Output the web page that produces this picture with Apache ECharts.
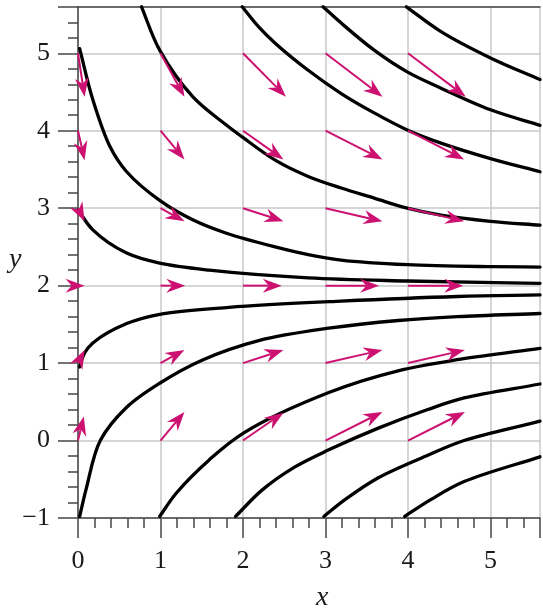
<!DOCTYPE html>
<html>
<head>
<meta charset="utf-8">
<script src="https://cdn.jsdelivr.net/npm/echarts@6/dist/echarts.min.js"></script>
<style>
  html, body { margin: 0; padding: 0; background: #ffffff; }
  #chart { width: 543px; height: 610px; }
</style>
</head>
<body>
<div id="chart"></div>
<script>
// Direction field (arrows at grid points) and solution curves approaching y = 2.

// Axis ranges and tick values
const xRange = [0, 5.6];
const yRange = [-1, 5.6];
const xTickValues = [0, 1, 2, 3, 4, 5];
const yTickValues = [-1, 0, 1, 2, 3, 4, 5];

// Field arrows: [x, y, dx, dy]
const fieldArrows = [
  [0, 5, 0.08, -0.56], [0, 4, 0.08, -0.38], [0, 3, 0.08, -0.17], [0, 2, 0.08, 0], [0, 1, 0.08, 0.17], [0, 0, 0.07, 0.31],
  [1, 5, 0.29, -0.56], [1, 4, 0.29, -0.37], [1, 3, 0.29, -0.17], [1, 2, 0.30, 0], [1, 1, 0.29, 0.17], [1, 0, 0.29, 0.37],
  [2, 5, 0.52, -0.56], [2, 4, 0.49, -0.37], [2, 3, 0.49, -0.17], [2, 2, 0.47, 0], [2, 1, 0.49, 0.17], [2, 0, 0.49, 0.36],
  [3, 5, 0.69, -0.56], [3, 4, 0.69, -0.37], [3, 3, 0.69, -0.17], [3, 2, 0.65, 0], [3, 1, 0.69, 0.17], [3, 0, 0.69, 0.37],
  [4, 5, 0.70, -0.56], [4, 4, 0.68, -0.37], [4, 3, 0.68, -0.17], [4, 2, 0.67, 0], [4, 1, 0.69, 0.17], [4, 0, 0.69, 0.37]
];

// Solution curves above y = 2
const curveE = [[3.98, 5.6], [4.40, 5.28], [5.0, 4.94], [5.6, 4.66]];
const curveD = [[2.97, 5.6], [3.19, 5.39], [3.59, 5.04], [3.99, 4.76], [4.40, 4.55], [5.0, 4.27], [5.6, 4.07]];
const curveC = [[1.99, 5.6], [2.19, 5.34], [2.39, 5.13], [2.79, 4.78], [3.19, 4.48], [3.59, 4.23], [3.99, 4.01], [4.40, 3.84], [5.0, 3.64], [5.6, 3.47]];
const curveB = [[0.77, 5.6], [0.99, 5.04], [1.39, 4.44], [1.79, 4.08], [1.99, 3.92], [2.39, 3.62], [2.79, 3.41], [3.19, 3.26], [3.59, 3.13], [3.99, 3.0], [4.40, 2.91], [5.0, 2.83], [5.6, 2.78]];
const curveA = [[0.02, 5.06], [0.18, 4.40], [0.39, 3.79], [0.59, 3.47], [0.99, 3.10], [1.39, 2.85], [1.79, 2.68], [2.39, 2.50], [2.79, 2.40], [3.19, 2.33], [3.99, 2.27], [5.0, 2.245], [5.6, 2.24]];
const curveF = [[0.0, 2.98], [0.18, 2.72], [0.59, 2.42], [0.99, 2.29], [1.59, 2.20], [2.79, 2.10], [3.99, 2.06], [5.6, 2.03]];

// Solution curves below y = 2
const curveL1 = [[0.02, 0.95], [0.08, 1.13], [0.18, 1.26], [0.59, 1.51], [0.99, 1.63], [1.83, 1.72], [3.19, 1.80], [4.6, 1.86], [5.6, 1.88]];
const curveL2 = [[0.02, -0.98], [0.10, -0.62], [0.27, 0.0], [0.59, 0.43], [0.99, 0.74], [1.51, 1.04], [2.19, 1.29], [3.04, 1.45], [3.88, 1.55], [4.6, 1.60], [5.6, 1.64]];
const curveL3 = [[0.99, -0.98], [1.19, -0.68], [1.59, -0.25], [2.01, 0.10], [3.04, 0.62], [3.88, 0.90], [4.64, 1.05], [5.6, 1.19]];
const curveL4 = [[1.91, -0.98], [2.23, -0.64], [2.63, -0.34], [3.04, -0.12], [3.64, 0.16], [4.24, 0.40], [4.68, 0.55], [5.6, 0.73]];
const curveL5 = [[2.98, -0.98], [3.24, -0.76], [3.64, -0.48], [4.24, -0.19], [4.68, 0.0], [5.6, 0.25]];
const curveL6 = [[3.96, -0.98], [4.28, -0.76], [4.68, -0.53], [5.6, -0.21]];

const solutionCurves = [curveE, curveD, curveC, curveB, curveA, curveF, curveL1, curveL2, curveL3, curveL4, curveL5, curveL6];

const AXIS_COLOR = '#474747';
const GRID_COLOR = '#c8c8c8';
const ARROW_COLOR = '#cc1171';
const SERIF = '"Liberation Serif", "DejaVu Serif", serif';

function tickLabel(values) {
  return function (v) {
    return values.some(t => Math.abs(t - v) < 1e-9) ? String(v).replace('-', '\u2212') : '';
  };
}

// Centripetal Catmull-Rom through the pixel positions of the curve's points
function splinePath(px) {
  const n = px.length;
  const P = i => {
    if (i < 0) return [2 * px[0][0] - px[1][0], 2 * px[0][1] - px[1][1]];
    if (i >= n) return [2 * px[n - 1][0] - px[n - 2][0], 2 * px[n - 1][1] - px[n - 2][1]];
    return px[i];
  };
  const dist = (a, b) => Math.max(1e-6, Math.pow(Math.hypot(b[0] - a[0], b[1] - a[1]), 0.5));
  let d = 'M' + px[0][0].toFixed(2) + ' ' + px[0][1].toFixed(2);
  for (let i = 0; i < n - 1; i++) {
    const p0 = P(i - 1), p1 = P(i), p2 = P(i + 1), p3 = P(i + 2);
    const d1 = dist(p0, p1), d2 = dist(p1, p2), d3 = dist(p2, p3);
    const b1 = [0, 1].map(k => (d1 * d1 * p2[k] - d2 * d2 * p0[k] + (2 * d1 * d1 + 3 * d1 * d2 + d2 * d2) * p1[k]) / (3 * d1 * (d1 + d2)));
    const b2 = [0, 1].map(k => (d3 * d3 * p1[k] - d2 * d2 * p3[k] + (2 * d3 * d3 + 3 * d3 * d2 + d2 * d2) * p2[k]) / (3 * d3 * (d3 + d2)));
    d += ' C' + b1[0].toFixed(2) + ' ' + b1[1].toFixed(2) + ' ' + b2[0].toFixed(2) + ' ' + b2[1].toFixed(2) + ' ' + p2[0].toFixed(2) + ' ' + p2[1].toFixed(2);
  }
  return d;
}

function renderCurve(params, api) {
  if (params.dataIndexInside !== 0) return null;
  const children = solutionCurves.map(pts => ({
    type: 'path',
    shape: { pathData: splinePath(pts.map(p => api.coord(p))) },
    style: { stroke: '#000000', lineWidth: 3.3, fill: null, lineCap: 'round' }
  }));
  return { type: 'group', children: children };
}

// Arrow glyph: shaft plus a notched, filled head at the tip
function renderArrow(params, api) {
  const x = api.value(0), y = api.value(1), dx = api.value(2), dy = api.value(3);
  const p0 = api.coord([x, y]);
  const p1 = api.coord([x + dx, y + dy]);
  const vx = p1[0] - p0[0], vy = p1[1] - p0[1];
  const len = Math.sqrt(vx * vx + vy * vy) || 1;
  const ux = vx / len, uy = vy / len;
  const nx = -uy, ny = ux;
  const headLen = 19, headHalf = 7, notch = 13;
  const base = [p1[0] - ux * headLen, p1[1] - uy * headLen];
  const left = [base[0] + nx * headHalf, base[1] + ny * headHalf];
  const right = [base[0] - nx * headHalf, base[1] - ny * headHalf];
  const notchPt = [p1[0] - ux * notch, p1[1] - uy * notch];
  return {
    type: 'group',
    children: [
      {
        type: 'line',
        shape: { x1: p0[0], y1: p0[1], x2: notchPt[0], y2: notchPt[1] },
        style: { stroke: ARROW_COLOR, lineWidth: 2 }
      },
      {
        type: 'polygon',
        shape: { points: [p1, left, notchPt, right] },
        style: { fill: ARROW_COLOR }
      }
    ]
  };
}

const chart = echarts.init(document.getElementById('chart'), null, { renderer: 'canvas' });

chart.setOption({
  animation: false,
  backgroundColor: '#ffffff',
  grid: { left: 78, right: 0, top: 6.8, bottom: 92, containLabel: false },
  xAxis: [
    {
      type: 'value',
      min: xRange[0], max: xRange[1], interval: 1,
      axisLine: { show: true, onZero: false, lineStyle: { color: AXIS_COLOR, width: 1.5 } },
      axisTick: { show: true, inside: false, length: 20, lineStyle: { color: AXIS_COLOR, width: 1.5 } },
      minorTick: { show: true, splitNumber: 5, length: 10, lineStyle: { color: AXIS_COLOR, width: 1.5 } },
      splitLine: { show: true, lineStyle: { color: GRID_COLOR, width: 1.5 } },
      axisLabel: {
        margin: 30, fontSize: 26, fontFamily: SERIF, color: '#1a1a1a',
        formatter: tickLabel(xTickValues)
      }
    },
    {
      type: 'value', position: 'top',
      min: xRange[0], max: xRange[1], interval: 1,
      axisLine: { show: true, onZero: false, lineStyle: { color: AXIS_COLOR, width: 1.5 } },
      axisTick: { show: false }, axisLabel: { show: false }, splitLine: { show: false }
    }
  ],
  yAxis: {
    type: 'value',
    min: yRange[0], max: yRange[1], interval: 1,
    axisLine: { show: true, onZero: false, lineStyle: { color: AXIS_COLOR, width: 1.5 } },
    axisTick: { show: true, inside: false, length: 20, lineStyle: { color: AXIS_COLOR, width: 1.5 } },
    minorTick: { show: true, splitNumber: 5, length: 10, lineStyle: { color: AXIS_COLOR, width: 1.5 } },
    splitLine: { show: true, lineStyle: { color: GRID_COLOR, width: 1.5 } },
    axisLabel: {
      margin: 28, fontSize: 26, fontFamily: SERIF, color: '#1a1a1a',
      formatter: tickLabel(yTickValues)
    }
  },
  graphic: [
    {
      type: 'text', left: 9, top: 246,
      style: { text: 'y', font: 'italic 28px "Liberation Serif", serif', fill: '#1a1a1a' }
    },
    {
      type: 'text', left: 316, top: 584,
      style: { text: 'x', font: 'italic 28px "Liberation Serif", serif', fill: '#1a1a1a' }
    }
  ],
  series: [
    {
      type: 'custom',
      renderItem: renderCurve,
      data: [[0, 0]],
      z: 3,
      silent: true
    },
    {
      type: 'custom',
      renderItem: renderArrow,
      data: fieldArrows,
      z: 4,
      silent: true
    }
  ]
});
</script>
</body>
</html>
